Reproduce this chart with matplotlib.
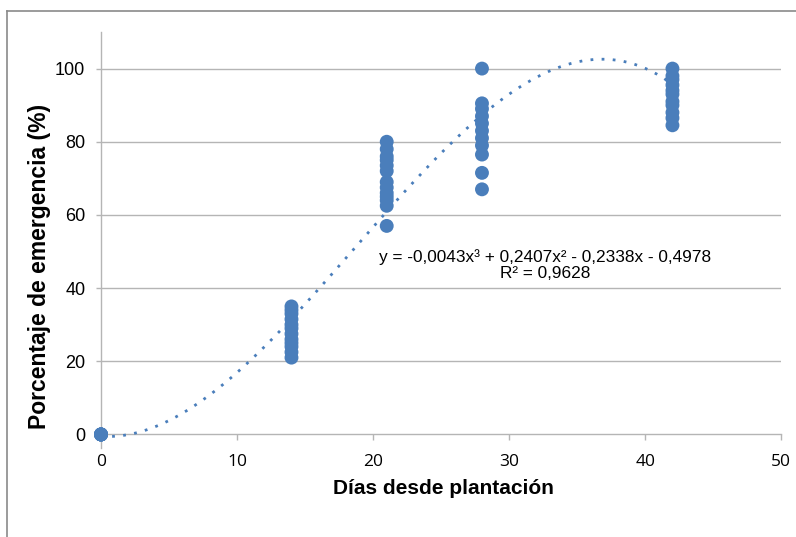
import numpy as np
import matplotlib
matplotlib.use("Agg")
import matplotlib.pyplot as plt
from matplotlib.lines import Line2D

# ---- data ----
days_0 = [0, 0, 0, 0, 0, 0]
emerg_0 = [0, 0, 0, 0, 0, 0]
days_14 = [14] * 12
emerg_14 = [21, 22.5, 24, 25, 26, 27.5, 29, 30, 31.5, 33, 34, 35]
days_21 = [21] * 13
emerg_21 = [80, 78, 76, 75, 73.5, 72, 69, 67.5, 66, 65, 64, 62.5, 57]
days_28 = [28] * 11
emerg_28 = [100, 90.5, 89, 87, 85, 83, 81, 79, 76.5, 71.5, 67]
days_42 = [42] * 11
emerg_42 = [100, 98, 97, 95.5, 94, 93, 91, 90, 88, 86.5, 84.5]

trend_coefs = [-0.0043, 0.2407, -0.2338, -0.4978]
r2 = 0.9628
eq_text = "y = -0,0043x³ + 0,2407x² - 0,2338x - 0,4978\nR² = 0,9628"

x_ticks = [0, 10, 20, 30, 40, 50]
y_ticks = [0, 20, 40, 60, 80, 100]

x_all = days_0 + days_14 + days_21 + days_28 + days_42
y_all = emerg_0 + emerg_14 + emerg_21 + emerg_28 + emerg_42

blue = "#4a7ebb"

fig = plt.figure(figsize=(7.96, 5.37), dpi=100)
ax = fig.add_axes([101 / 796, 1 - 448 / 537, (781.3 - 101) / 796, (448 - 32) / 537])

ax.set_xlim(0, 50)
ax.set_ylim(-3.7, 110)

# gridlines
for yv in y_ticks[1:]:
    ax.axhline(yv, color="#b5b5b5", lw=1.0, zorder=0)

ax.scatter(x_all, y_all, s=100, color=blue, edgecolors="none", zorder=3, clip_on=False)

xt = np.linspace(0, 42, 300)
yt = np.polyval(trend_coefs, xt)
ax.plot(xt, yt, color=blue, lw=2.0, linestyle=(0, (1, 3.0)), zorder=4)

fig.text(545 / 796, 1 - 265 / 537, eq_text, ha="center", va="center",
         fontsize=12.4, family="Liberation Sans", linespacing=1.12, color="#000000")

for s in ["top", "right"]:
    ax.spines[s].set_visible(False)
ax.spines["bottom"].set_position(("data", 0))
ax.spines["bottom"].set_color("#b5b5b5")
ax.spines["left"].set_color("#b5b5b5")
ax.spines["bottom"].set_linewidth(1.0)
ax.spines["left"].set_linewidth(1.0)

ax.set_xticks(x_ticks)
ax.set_yticks(y_ticks)
ax.set_xticklabels([str(v) for v in x_ticks], family="Open Sans", fontsize=12.5)
ax.set_yticklabels([str(v) for v in y_ticks], family="Liberation Sans", fontsize=13)
ax.tick_params(axis="x", direction="out", length=4.5, width=1, color="#b5b5b5", pad=9.5)
ax.tick_params(axis="y", direction="out", length=3.3, width=1, color="#b5b5b5", pad=8.0)

fig.text(443 / 796, 1 - 488 / 537, "Días desde plantación", ha="center", va="center",
         fontsize=15, fontweight="bold", family="Liberation Sans")
fig.text(40 / 796, 1 - 266 / 537, "Porcentaje de emergencia (%)", ha="center", va="center",
         rotation=90, fontsize=16.5, fontweight="bold", family="Liberation Sans")

# outer chart frame
fig.add_artist(Line2D([6.5 / 796, 6.5 / 796], [-0.1, 1 - 10.7 / 537], transform=fig.transFigure,
                      color="#8a8a8a", lw=1.2))
fig.add_artist(Line2D([6.5 / 796, 1.1], [1 - 10.7 / 537, 1 - 10.7 / 537], transform=fig.transFigure,
                      color="#8a8a8a", lw=1.2))

fig.savefig("out.png", dpi=100)
